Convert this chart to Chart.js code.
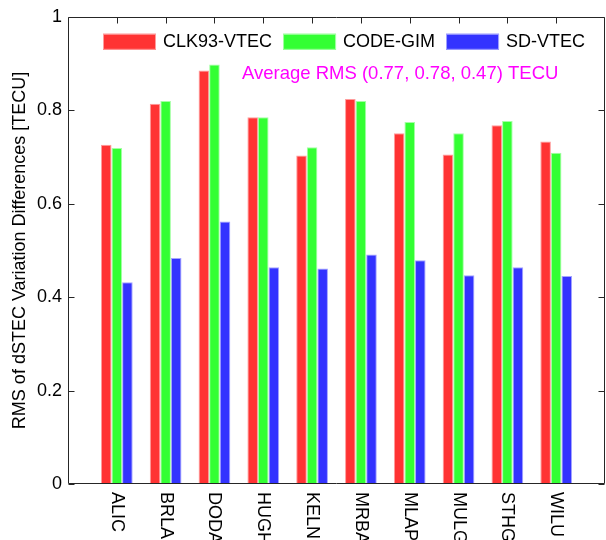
<!DOCTYPE html>
<html>
<head>
<meta charset="utf-8">
<script src="https://cdn.jsdelivr.net/npm/chart.js@4/dist/chart.umd.min.js"></script>
<style>
  html, body { margin: 0; padding: 0; background: #fff; overflow: hidden; }
  #wrap { width: 606px; height: 540px; position: relative; }
</style>
</head>
<body>
<div id="wrap"><canvas id="c" width="606" height="540"></canvas></div>
<script>
// Stations and RMS of dSTEC variation differences (TECU) for each VTEC model
const stations = ['ALIC', 'BRLA', 'DODA', 'HUGH', 'KELN', 'MRBA', 'MLAP', 'MULG', 'STHG', 'WILU'];
const clk93Vtec = [0.726, 0.814, 0.885, 0.785, 0.703, 0.824, 0.751, 0.705, 0.768, 0.733];
const codeGim   = [0.719, 0.820, 0.898, 0.785, 0.721, 0.820, 0.775, 0.751, 0.777, 0.709];
const sdVtec    = [0.432, 0.484, 0.562, 0.464, 0.461, 0.491, 0.479, 0.447, 0.464, 0.445];
const yTicks = [0, 0.2, 0.4, 0.6, 0.8, 1];
const seriesNames = ['CLK93-VTEC', 'CODE-GIM', 'SD-VTEC'];
const yTitle = 'RMS of dSTEC Variation Differences [TECU]';
const noteText = 'Average RMS (0.77, 0.78, 0.47) TECU';

const FONT = '"Liberation Sans", Arial, Helvetica, sans-serif';
const fillColors = ['#ff3333', '#33ff33', '#3333ff'];
const edgeColors = ['#ff9c9c', '#a4ffa4', '#a4a4ff'];
const axisColor = '#262626';

const series = [clk93Vtec, codeGim, sdVtec];
const datasets = series.map((vals, k) => ({
  label: seriesNames[k],
  data: vals.map((v, i) => ({ x: i + 1, y: v })),
  backgroundColor: fillColors[k],
  borderColor: edgeColors[k],
  borderWidth: 1,
  categoryPercentage: 0.65,
  barPercentage: 1.0
}));

// Axes box, inward ticks, legend, note and rotated station names
const decorations = {
  id: 'decorations',
  beforeDatasetsDraw(chart) {
    const { ctx, chartArea: a, scales: { x } } = chart;
    ctx.save();
    ctx.strokeStyle = axisColor;
    ctx.lineWidth = 1;
    ctx.beginPath();
    stations.forEach((_, i) => {
      const px = Math.round(x.getPixelForValue(i + 1)) + 0.5;
      ctx.moveTo(px, a.bottom);
      ctx.lineTo(px, a.bottom - 6);
    });
    ctx.stroke();
    ctx.restore();
  },
  afterDatasetsDraw(chart) {
    const { ctx, chartArea: a, scales: { x, y } } = chart;
    ctx.save();
    ctx.strokeStyle = axisColor;
    ctx.lineWidth = 1;
    const L = Math.round(a.left) + 0.5, R = Math.round(a.right) - 0.5;
    const T = Math.round(a.top) + 0.5, B = Math.round(a.bottom) - 0.5;
    ctx.beginPath();
    ctx.moveTo(L, T); ctx.lineTo(R, T); ctx.lineTo(R, B); ctx.lineTo(L, B); ctx.closePath();
    // top ticks
    stations.forEach((_, i) => {
      const px = Math.round(x.getPixelForValue(i + 1)) + 0.5;
      ctx.moveTo(px, T); ctx.lineTo(px, T + 6);
    });
    // left and right ticks
    yTicks.forEach(v => {
      const py = Math.round(y.getPixelForValue(v)) + 0.5;
      ctx.moveTo(L, py); ctx.lineTo(L + 6, py);
      ctx.moveTo(R, py); ctx.lineTo(R - 6, py);
    });
    ctx.stroke();

    // legend
    ctx.font = '18px ' + FONT;
    ctx.textBaseline = 'middle';
    ctx.textAlign = 'left';
    let lx = a.left + 35;
    const ly = a.top + 17;
    chart.data.datasets.forEach(ds => {
      ctx.fillStyle = ds.backgroundColor;
      ctx.fillRect(lx, ly, 53, 16);
      ctx.strokeStyle = ds.borderColor;
      ctx.strokeRect(lx + 0.5, ly + 0.5, 52, 15);
      ctx.fillStyle = '#000';
      ctx.fillText(ds.label, lx + 60, ly + 8);
      lx += 60 + ctx.measureText(ds.label).width + 11;
    });

    // average note
    ctx.font = '18.5px ' + FONT;
    ctx.fillStyle = '#ff00ff';
    ctx.fillText(noteText, a.left + 174, a.top + 57);
    ctx.restore();
  },
  afterDraw(chart) {
    const { ctx, chartArea: a, scales: { x } } = chart;
    ctx.save();
    ctx.font = '18px ' + FONT;
    ctx.fillStyle = '#000';
    ctx.textAlign = 'left';
    ctx.textBaseline = 'middle';
    stations.forEach((name, i) => {
      ctx.save();
      ctx.translate(x.getPixelForValue(i + 1), a.bottom + 8);
      ctx.rotate(Math.PI / 2);
      ctx.fillText(name, 0, 0);
      ctx.restore();
    });
    ctx.restore();
  }
};

new Chart(document.getElementById('c'), {
  type: 'bar',
  data: { datasets },
  plugins: [decorations],
  options: {
    responsive: false,
    animation: false,
    devicePixelRatio: 1,
    layout: { padding: { top: 14, right: 1, left: 0, bottom: 0 } },
    plugins: { legend: { display: false }, tooltip: { enabled: false } },
    scales: {
      x: {
        type: 'linear',
        min: 0,
        max: 11,
        offset: false,
        ticks: { display: false, stepSize: 1 },
        grid: { display: false },
        border: { display: false },
        afterFit: s => { s.height = 56; }
      },
      y: {
        min: 0,
        max: 1,
        afterBuildTicks: s => { s.ticks = yTicks.map(v => ({ value: v })); },
        ticks: {
          color: '#000',
          font: { family: FONT, size: 18 },
          padding: 6,
          callback: v => String(v)
        },
        grid: { display: false, drawTicks: false },
        border: { display: false },
        title: {
          display: true,
          text: yTitle,
          color: '#000',
          font: { family: FONT, size: 18 },
          padding: { top: 9, bottom: 0 }
        },
        afterFit: s => { s.width = 68; }
      }
    }
  }
});
</script>
</body>
</html>
